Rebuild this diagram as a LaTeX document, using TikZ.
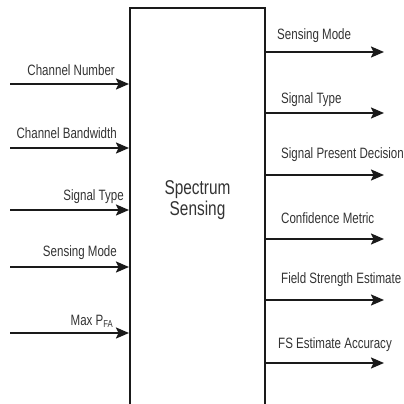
\documentclass[tikz,border=0pt]{standalone}
\usepackage{fontspec}
\setmainfont{Liberation Sans}
\newfontfamily\narrowsans{Liberation Sans}[FakeStretch=0.77]
\usetikzlibrary{arrows.meta}
\definecolor{txt}{HTML}{333333}
\definecolor{ink}{HTML}{1A1A1A}
\tikzset{
  arr/.style={draw=ink, line width=2pt, -{Stealth[length=13pt,width=11pt,inset=2.5pt]}},
  lbl/.style={text=txt, inner sep=0pt, font=\narrowsans\fontsize{15}{17}\selectfont},
  lblL/.style={lbl, anchor=base east},
  lblR/.style={lbl, anchor=base west},
  blockbox/.style={draw=ink, line width=2pt, minimum width=135pt, minimum height=412pt, inner sep=0pt},
  title/.style={text=txt, align=center, inner sep=0pt, font=\narrowsans\fontsize{20}{21}\selectfont}
}
\begin{document}
\begin{tikzpicture}[x=1pt,y=-1pt]
\useasboundingbox (0,0) rectangle (404,404);
\node[blockbox] (box) at (197.5,214) {};
\node[title] (t) at (197.5,200) {Spectrum\\Sensing};

% left inputs
\coordinate (l1) at (10,84);
\coordinate (l2) at (10,148);
\coordinate (l3) at (10,210);
\coordinate (l4) at (10,267);
\coordinate (l5) at (10,333);
\node[lblL] (a1) at (115,75) {Channel Number};
\node[lblL] (a2) at (117,138) {Channel Bandwidth};
\node[lblL] (a3) at (124,200) {Signal Type};
\node[lblL] (a4) at (117,256) {Sensing Mode};
\node[lblL] (a5) at (113,325) {Max P\raisebox{-0.3ex}{\fontsize{10}{10}\selectfont FA}};
\foreach \i in {1,...,5}{\draw[arr] (l\i) -- (l\i -| box.west);}

% right outputs
\coordinate (r1) at (384,52);
\coordinate (r2) at (384,113);
\coordinate (r3) at (384,175);
\coordinate (r4) at (384,239);
\coordinate (r5) at (384,300);
\coordinate (r6) at (384,363);
\node[lblR] (b1) at (277,40) {Sensing Mode};
\node[lblR] (b2) at (281,103) {Signal Type};
\node[lblR] (b3) at (281,158) {Signal Present Decision};
\node[lblR] (b4) at (281,223) {Confidence Metric};
\node[lblR] (b5) at (281,283) {Field Strength Estimate};
\node[lblR] (b6) at (278,348) {FS Estimate Accuracy};
\foreach \i in {1,...,6}{\draw[arr] (r\i -| box.east) -- (r\i);}
\end{tikzpicture}
\end{document}
